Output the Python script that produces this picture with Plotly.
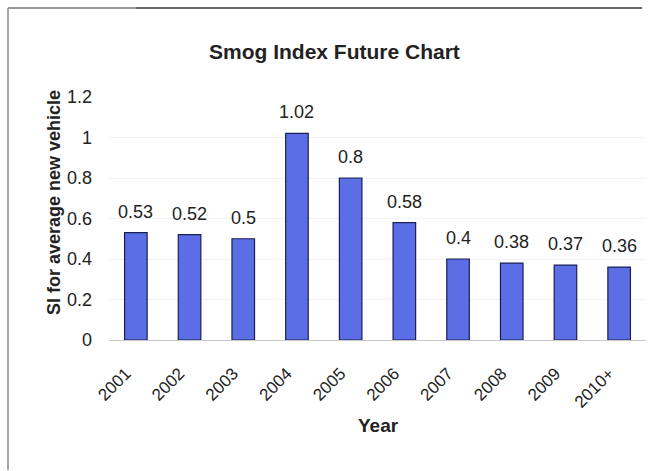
import plotly.graph_objects as go

years = ["2001", "2002", "2003", "2004", "2005", "2006", "2007", "2008", "2009", "2010+"]
si_values = [0.53, 0.52, 0.5, 1.02, 0.8, 0.58, 0.4, 0.38, 0.37, 0.36]
y_ticks = [0, 0.2, 0.4, 0.6, 0.8, 1, 1.2]
y_tick_text = ["0", "0.2", "0.4", "0.6", "0.8", "1", "1.2"]

FONT = "Liberation Sans, Arial, sans-serif"
W, H = 648, 471
L, R, T, B = 109, 2, 97, 131

fig = go.Figure()
fig.add_trace(go.Bar(
    x=years, y=si_values,
    marker=dict(color="#5b6ee6", line=dict(color="#1c1f55", width=1.2)),
    width=0.42,
))

def px_x(p):
    return (p - L) / (W - L - R)

def px_y(p):
    return (H - B - p) / (H - T - B)

annotations = [
    dict(x=i, y=v, text=str(v), xref="x", yref="y", showarrow=False,
         yanchor="bottom", yshift=9,
         font=dict(size=18, color="#222", family=FONT))
    for i, v in enumerate(si_values)
]
annotations += [
    dict(text="<b>Smog Index Future Chart</b>", x=px_x(334), y=px_y(38),
         xref="paper", yref="paper", showarrow=False,
         font=dict(size=21, color="#222", family=FONT)),
    dict(text="<b>SI for average new vehicle</b>", x=px_x(42), y=px_y(203),
         xref="paper", yref="paper", showarrow=False, textangle=-90,
         font=dict(size=18, color="#222", family=FONT)),
    dict(text="<b>Year</b>", x=px_x(378), y=px_y(438),
         xref="paper", yref="paper", showarrow=False,
         font=dict(size=19, color="#222", family=FONT)),
]

fig.update_layout(
    width=W, height=H,
    margin=dict(l=L, r=R, t=T, b=B),
    paper_bgcolor="white", plot_bgcolor="white",
    font=dict(family=FONT, color="#222"),
    showlegend=False,
    xaxis=dict(
        type="category",
        tickangle=-45, tickfont=dict(size=17, color="#222"),
        showgrid=False, showline=True, linecolor="#c8c8c8", linewidth=1,
        ticks="", zeroline=False, ticklabelstandoff=16, ticklabelshift=-10,
    ),
    yaxis=dict(
        range=[0, 1.2], tickvals=y_ticks, ticktext=y_tick_text,
        tickfont=dict(size=18, color="#222"),
        showgrid=True, gridcolor="#f2f2f2", gridwidth=1,
        showline=False, zeroline=False, ticks="", ticklabelstandoff=16,
    ),
    annotations=annotations,
    shapes=[
        dict(type="line", xref="paper", yref="paper",
             x0=px_x(8), x1=px_x(136), y0=px_y(8), y1=px_y(8),
             line=dict(color="#777", width=1.5)),
        dict(type="line", xref="paper", yref="paper",
             x0=px_x(136), x1=px_x(642), y0=px_y(8), y1=px_y(8),
             line=dict(color="#333", width=1.5)),
        dict(type="line", xref="paper", yref="paper",
             x0=px_x(8), x1=px_x(8), y0=px_y(8), y1=px_y(470),
             line=dict(color="#888", width=1.5)),
    ],
)

fig.write_html("out.html")
